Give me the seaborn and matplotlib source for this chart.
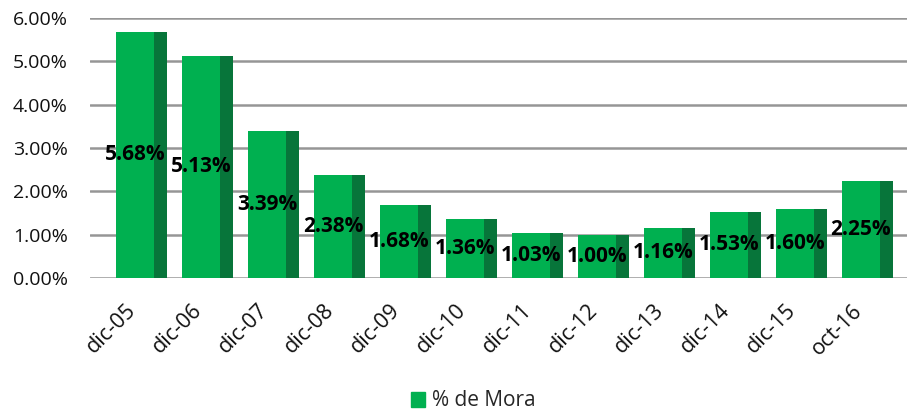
import matplotlib
matplotlib.use("Agg")
import matplotlib.pyplot as plt
import matplotlib.ticker as mtick
import matplotlib.transforms as mtrans
from matplotlib.patches import Patch
import numpy as np
import pandas as pd
import seaborn as sns

# ── Data ───────────────────────────────────────────────────────────────────
periods = ["dic-05", "dic-06", "dic-07", "dic-08", "dic-09", "dic-10",
           "dic-11", "dic-12", "dic-13", "dic-14", "dic-15", "oct-16"]
mora = [5.68, 5.13, 3.39, 2.38, 1.68, 1.36, 1.03, 1.00, 1.16, 1.53, 1.60, 2.25]
series_name = "% de Mora"

df = pd.DataFrame({"periodo": periods, "mora": np.array(mora) / 100})

GREEN = "#00b050"
DARK = "#07753a"
GRID = "#969696"

sns.set_theme(style="white")
plt.rcParams["font.family"] = ["Open Sans", "DejaVu Sans"]

fig = plt.figure(figsize=(9.07, 4.12), dpi=100)
ax = fig.add_axes([90 / 907, 1 - 278 / 412, 1 - 90 / 907, (278 - 18) / 412])

# dark side face (full depth), then bright front face on top
sns.barplot(data=df, x="periodo", y="mora", color=DARK, width=0.77,
            saturation=1, linewidth=0, ax=ax, zorder=2)
x = np.arange(len(periods))
front_w = 0.575
ax.bar(x - (0.77 - front_w) / 2, df["mora"], width=front_w, color=GREEN,
       zorder=3, linewidth=0)

# value labels, centred on the front face at half height
for xi, v in zip(x, mora):
    ax.text(xi - 0.098, v / 200, f"{v:.2f}%", ha="center", va="center",
            fontsize=15, fontweight="bold", color="black", zorder=4)

ax.set_ylim(0, 0.06)
ax.set_xlim(-0.78, len(periods) - 0.4)
ax.yaxis.set_major_locator(mtick.MultipleLocator(0.01))
ax.yaxis.set_major_formatter(mtick.PercentFormatter(xmax=1.0, decimals=2))
ax.grid(axis="y", color=GRID, linewidth=1.8, zorder=0)
ax.set_axisbelow(True)
for s in ax.spines.values():
    s.set_visible(False)
ax.set_xlabel(""); ax.set_ylabel("")
ax.tick_params(axis="y", labelsize=14, pad=16, length=0, colors="#111111")
ax.tick_params(axis="x", labelsize=15.5, length=0, pad=16, colors="#111111")
off = mtrans.ScaledTranslation(-0.16, 0, fig.dpi_scale_trans)
for lab in ax.get_xticklabels():
    lab.set_rotation(45)
    lab.set_ha("right")
    lab.set_rotation_mode("anchor")
    lab.set_transform(lab.get_transform() + off)

fig.legend(handles=[Patch(color=GREEN, label=series_name)],
           loc="center", bbox_to_anchor=(473 / 907, 1 - 401 / 412),
           frameon=False, fontsize=15, handlelength=0.7, handleheight=0.7,
           handletextpad=0.3)

fig.savefig("out.png", dpi=100)
